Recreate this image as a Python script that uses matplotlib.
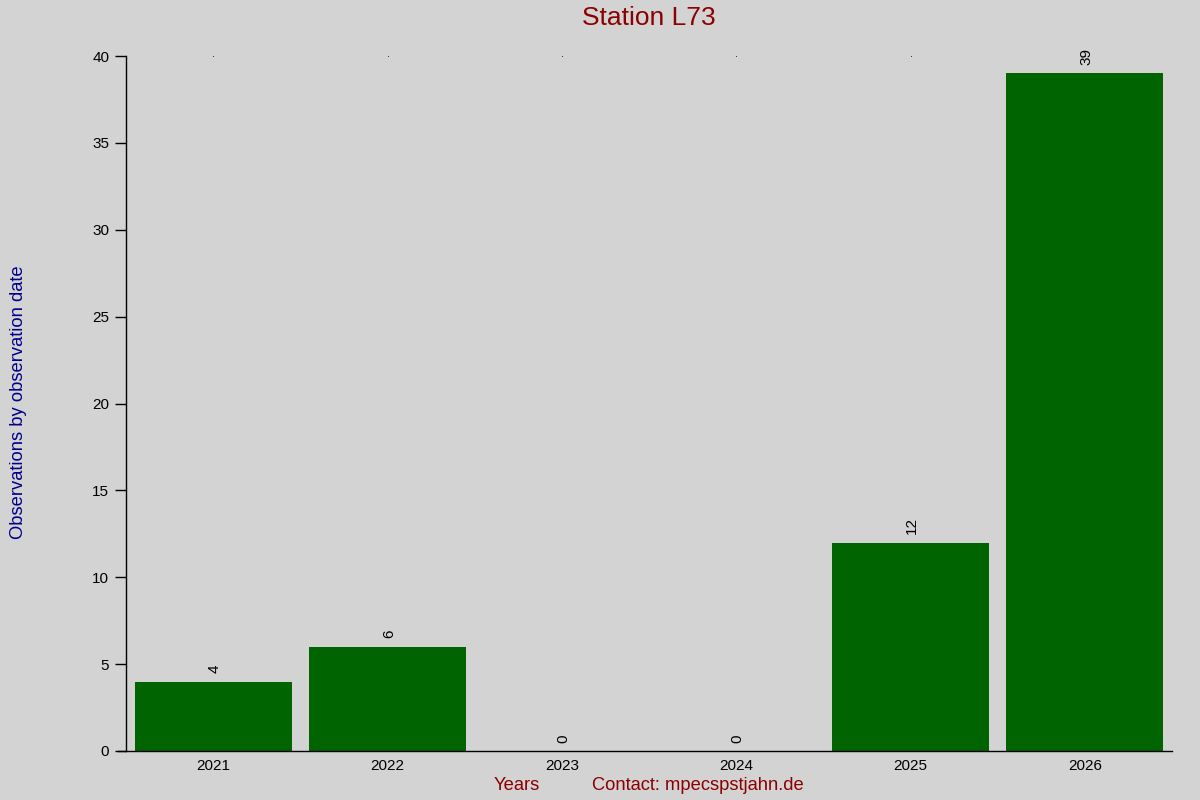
import matplotlib
matplotlib.use("Agg")
import matplotlib.pyplot as plt

plt.rcParams['font.family'] = ['Liberation Sans', 'DejaVu Sans']

years = ['2021', '2022', '2023', '2024', '2025', '2026']
counts = [4, 6, 0, 0, 12, 39]
yticks = [0, 5, 10, 15, 20, 25, 30, 35, 40]

bg = '#d3d3d3'
fig = plt.figure(figsize=(12, 8), dpi=100, facecolor=bg)
ax = fig.add_axes([0.105, 0.06125, 0.8717, 0.86875], facecolor=bg)

x = list(range(len(years)))
ax.bar(x, counts, width=0.9, color='#006400')

# value labels above bars
for xi, c in zip(x, counts):
    ax.annotate(str(c), (xi, c), xytext=(1, 6), textcoords='offset points',
                rotation=90, ha='center', va='bottom', fontsize=11, color='black')

ax.set_xlim(-0.5, 5.5)
ax.set_ylim(0, 40)
ax.set_xticks(x)
ax.set_xticklabels(years, fontsize=11)
ax.set_yticks(yticks)
ax.set_yticklabels([str(t) for t in yticks], fontsize=11)
ax.tick_params(axis='x', length=0, pad=6)
ax.tick_params(axis='y', length=8, width=1, pad=4)

for s in ['top', 'right', 'bottom']:
    ax.spines[s].set_visible(False)
ax.spines['left'].set_linewidth(1)

# bottom axis line extends past the left spine
ax.axhline(0, xmin=-8 / 1046, xmax=1, color='black', lw=1, clip_on=False)

# tiny marks at top of the plot above each year
ax.plot(x, [40] * len(x), linestyle='none', marker='s', markersize=0.5,
        markeredgewidth=0, color='black', clip_on=False)

fig.text(0.541, 0.978, 'Station L73', ha='center', va='center', fontsize=19, color='#8b0000')
fig.text(0.0083, 0.497, 'Observations by observation date', rotation=90,
         ha='left', va='center', fontsize=13.2, color='#00008b')
fig.text(0.431, 0.018, 'Years', ha='center', va='center', fontsize=13.2, color='#8b0000')
fig.text(0.5817, 0.018, 'Contact: mpecspstjahn.de', ha='center', va='center',
         fontsize=13.2, color='#8b0000')

fig.savefig('out.png', dpi=100, facecolor=bg)
